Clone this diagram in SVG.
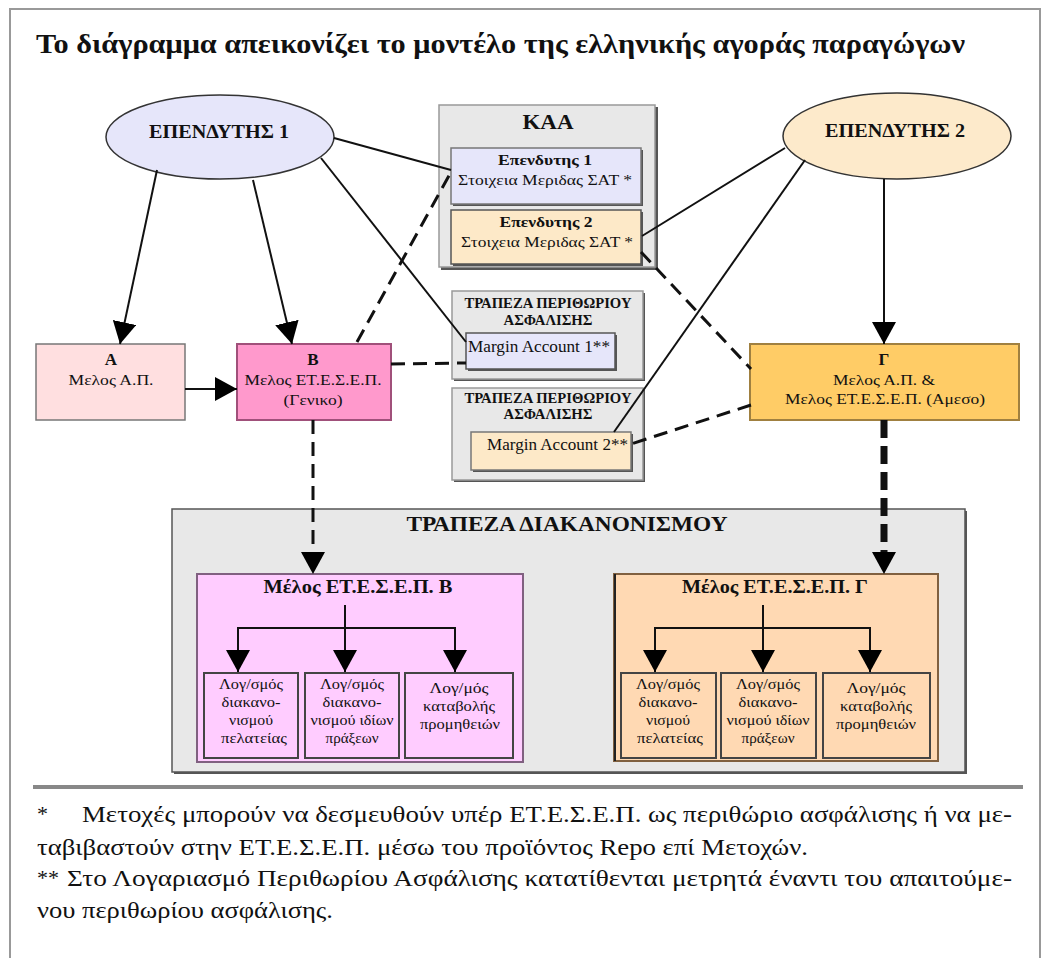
<svg xmlns="http://www.w3.org/2000/svg" width="1043" height="958" viewBox="0 0 1043 958" font-family="'Liberation Serif', 'Times New Roman', serif">
<style>
text{fill:#111}
.b{font-weight:bold}
.c{text-anchor:middle}
.ln{stroke:#111;stroke-width:2;fill:none}
.dl{stroke:#111;stroke-width:3;fill:none;stroke-dasharray:14 8}
.dt{stroke:#111;stroke-width:7;fill:none;stroke-dasharray:18 8}
.sh{fill:#555}
</style>
<defs>
<marker id="tip" markerUnits="userSpaceOnUse" markerWidth="22" markerHeight="24" refX="22" refY="12" orient="auto"><path d="M0,0 L22,12 L0,24 z" fill="#000"/></marker>
<marker id="base" markerUnits="userSpaceOnUse" markerWidth="22" markerHeight="24" refX="0" refY="12" orient="auto"><path d="M0,0 L22,12 L0,24 z" fill="#000"/></marker>
</defs>
<rect x="0" y="0" width="1043" height="958" fill="#fff"/>
<rect x="10" y="9" width="1030" height="965" fill="none" stroke="#999" stroke-width="2"/>
<text class="b" x="36" y="53" font-size="27" textLength="929" lengthAdjust="spacingAndGlyphs">Το διάγραμμα απεικονίζει το μοντέλο της ελληνικής αγοράς παραγώγων</text>

<g id="kaa">
<rect class="sh" x="441" y="107" width="217" height="163"/>
<rect x="439" y="105" width="216" height="162" fill="#e8e8e8" stroke="#999" stroke-width="1.5"/>
<text class="b c" x="548" y="129" font-size="21" textLength="51" lengthAdjust="spacingAndGlyphs">ΚΑΑ</text>
</g>
<g id="ep1box">
<rect class="sh" x="453" y="150" width="190" height="56"/>
<rect x="451" y="148" width="190" height="56" fill="#e6e6fa" stroke="#777" stroke-width="1.5"/>
<text class="b c" x="545" y="165" font-size="15" textLength="94" lengthAdjust="spacingAndGlyphs">Επενδυτης 1</text>
<text class="c" x="545" y="185" font-size="15.5" textLength="174" lengthAdjust="spacingAndGlyphs">Στοιχεια Μεριδας ΣΑΤ *</text>
</g>
<g id="ep2box">
<rect class="sh" x="453" y="212" width="190" height="54"/>
<rect x="451" y="210" width="190" height="54" fill="#fde9c8" stroke="#555" stroke-width="1.5"/>
<text class="b c" x="546" y="227" font-size="15" textLength="93" lengthAdjust="spacingAndGlyphs">Επενδυτης 2</text>
<text class="c" x="547" y="247" font-size="15.5" textLength="172" lengthAdjust="spacingAndGlyphs">Στοιχεια Μεριδας ΣΑΤ *</text>
</g>

<g id="margin1">
<rect class="sh" x="454" y="293" width="191" height="88"/>
<rect x="452" y="291" width="191" height="88" fill="#e8e8e8" stroke="#999" stroke-width="1.5"/>
<text class="b c" x="548" y="308" font-size="14" textLength="167" lengthAdjust="spacingAndGlyphs">ΤΡΑΠΕΖΑ ΠΕΡΙΘΩΡΙΟΥ</text>
<text class="b c" x="548" y="325" font-size="14" textLength="89" lengthAdjust="spacingAndGlyphs">ΑΣΦΑΛΙΣΗΣ</text>
<rect class="sh" x="468" y="335" width="149" height="36"/>
<rect x="466" y="333" width="149" height="36" fill="#e6e6fa" stroke="#555" stroke-width="1.5"/>
<text x="468" y="352" font-size="17" textLength="142" lengthAdjust="spacingAndGlyphs">Margin Account 1**</text>
</g>
<g id="margin2">
<rect class="sh" x="454" y="390" width="191" height="92"/>
<rect x="452" y="388" width="191" height="92" fill="#e8e8e8" stroke="#999" stroke-width="1.5"/>
<text class="b c" x="548" y="403" font-size="14" textLength="167" lengthAdjust="spacingAndGlyphs">ΤΡΑΠΕΖΑ ΠΕΡΙΘΩΡΙΟΥ</text>
<text class="b c" x="548" y="419" font-size="14" textLength="89" lengthAdjust="spacingAndGlyphs">ΑΣΦΑΛΙΣΗΣ</text>
<rect class="sh" x="473" y="434" width="160" height="38"/>
<rect x="471" y="432" width="160" height="38" fill="#fde9c8" stroke="#777" stroke-width="1.5"/>
<text x="487" y="450" font-size="17" textLength="141" lengthAdjust="spacingAndGlyphs">Margin Account 2**</text>
</g>

<g id="investor1">
<ellipse cx="220" cy="137" rx="114" ry="42" fill="#e6e6fa" stroke="#333" stroke-width="1.5"/>
<text class="b c" x="219" y="138" font-size="19" textLength="140" lengthAdjust="spacingAndGlyphs">ΕΠΕΝΔΥΤΗΣ 1</text>
</g>
<g id="investor2">
<ellipse cx="897" cy="136" rx="114" ry="43" fill="#fdeacb" stroke="#333" stroke-width="1.5"/>
<text class="b c" x="895" y="137" font-size="19" textLength="140" lengthAdjust="spacingAndGlyphs">ΕΠΕΝΔΥΤΗΣ 2</text>
</g>

<g id="nodeA">
<rect x="36" y="344" width="149" height="76" fill="#ffdfe0" stroke="#777" stroke-width="1.5"/>
<text class="b c" x="111" y="365" font-size="17">A</text>
<text class="c" x="111" y="385" font-size="15" textLength="85" lengthAdjust="spacingAndGlyphs">Μελος Α.Π.</text>
</g>
<g id="nodeB">
<rect x="237" y="344" width="154" height="76" fill="#ff99cc" stroke="#a0507a" stroke-width="2"/>
<text class="b c" x="313" y="365" font-size="17">B</text>
<text class="c" x="313" y="385" font-size="15" textLength="137" lengthAdjust="spacingAndGlyphs">Μελος ΕΤ.Ε.Σ.Ε.Π.</text>
<text class="c" x="313" y="405" font-size="15" textLength="59" lengthAdjust="spacingAndGlyphs">(Γενικο)</text>
</g>
<g id="nodeG">
<rect x="750" y="344" width="269" height="76" fill="#ffcc66" stroke="#a08040" stroke-width="2"/>
<text class="b c" x="884" y="365" font-size="17">Γ</text>
<text class="c" x="884" y="385" font-size="15" textLength="102" lengthAdjust="spacingAndGlyphs">Μελος Α.Π. &amp;</text>
<text class="c" x="885" y="404" font-size="15" textLength="200" lengthAdjust="spacingAndGlyphs">Μελος ΕΤ.Ε.Σ.Ε.Π. (Αμεσο)</text>
</g>

<g id="settlement">
<rect class="sh" x="174" y="511" width="793" height="263"/>
<rect x="172" y="509" width="793" height="263" fill="#e8e8e8" stroke="#555" stroke-width="1.5"/>
<text class="b c" x="567" y="531" font-size="21" textLength="321" lengthAdjust="spacingAndGlyphs">ΤΡΑΠΕΖΑ ΔΙΑΚΑΝΟΝΙΣΜΟΥ</text>
</g>
<g id="memberB">
<rect x="197" y="574" width="326" height="188" fill="#ffccff" stroke="#806080" stroke-width="2"/>
<text class="b c" x="358" y="593" font-size="18" textLength="189" lengthAdjust="spacingAndGlyphs">Μέλος ΕΤ.Ε.Σ.Ε.Π. Β</text>
<g id="memberB-acc1">
<rect x="204" y="673" width="94" height="85" fill="#ffccff" stroke="#444" stroke-width="2"/>
<text class="c" x="251" y="689" font-size="15" textLength="64" lengthAdjust="spacingAndGlyphs">Λογ/σμός</text>
<text class="c" x="251" y="707" font-size="15" textLength="59" lengthAdjust="spacingAndGlyphs">διακανο-</text>
<text class="c" x="251" y="725" font-size="15" textLength="44" lengthAdjust="spacingAndGlyphs">νισμού</text>
<text class="c" x="254" y="743" font-size="15" textLength="66" lengthAdjust="spacingAndGlyphs">πελατείας</text>
</g>
<g id="memberB-acc2">
<rect x="305" y="673" width="94" height="85" fill="#ffccff" stroke="#444" stroke-width="2"/>
<text class="c" x="352" y="689" font-size="15" textLength="64" lengthAdjust="spacingAndGlyphs">Λογ/σμός</text>
<text class="c" x="352" y="707" font-size="15" textLength="59" lengthAdjust="spacingAndGlyphs">διακανο-</text>
<text class="c" x="352" y="725" font-size="15" textLength="83" lengthAdjust="spacingAndGlyphs">νισμού ιδίων</text>
<text class="c" x="352" y="743" font-size="15" textLength="53" lengthAdjust="spacingAndGlyphs">πράξεων</text>
</g>
<g id="memberB-acc3">
<rect x="405" y="673" width="108" height="85" fill="#ffccff" stroke="#444" stroke-width="2"/>
<text class="c" x="459" y="693" font-size="15" textLength="59" lengthAdjust="spacingAndGlyphs">Λογ/μός</text>
<text class="c" x="459" y="711" font-size="15" textLength="72" lengthAdjust="spacingAndGlyphs">καταβολής</text>
<text class="c" x="460" y="729" font-size="15" textLength="80" lengthAdjust="spacingAndGlyphs">προμηθειών</text>
</g>
</g>
<g id="memberG">
<rect x="614" y="574" width="324" height="187" fill="#ffd9b3" stroke="#806040" stroke-width="2"/>
<rect x="614" y="574" width="2" height="187" fill="#222"/>
<text class="b c" x="775" y="593" font-size="18" textLength="186" lengthAdjust="spacingAndGlyphs">Μέλος ΕΤ.Ε.Σ.Ε.Π. Γ</text>
<g id="memberG-acc1">
<rect x="621" y="673" width="95" height="85" fill="#ffd9b3" stroke="#444" stroke-width="2"/>
<text class="c" x="668" y="689" font-size="15" textLength="64" lengthAdjust="spacingAndGlyphs">Λογ/σμός</text>
<text class="c" x="668" y="707" font-size="15" textLength="59" lengthAdjust="spacingAndGlyphs">διακανο-</text>
<text class="c" x="668" y="725" font-size="15" textLength="44" lengthAdjust="spacingAndGlyphs">νισμού</text>
<text class="c" x="670" y="743" font-size="15" textLength="66" lengthAdjust="spacingAndGlyphs">πελατείας</text>
</g>
<g id="memberG-acc2">
<rect x="721" y="673" width="95" height="85" fill="#ffd9b3" stroke="#444" stroke-width="2"/>
<text class="c" x="768" y="689" font-size="15" textLength="64" lengthAdjust="spacingAndGlyphs">Λογ/σμός</text>
<text class="c" x="768" y="707" font-size="15" textLength="59" lengthAdjust="spacingAndGlyphs">διακανο-</text>
<text class="c" x="768" y="725" font-size="15" textLength="83" lengthAdjust="spacingAndGlyphs">νισμού ιδίων</text>
<text class="c" x="768" y="743" font-size="15" textLength="53" lengthAdjust="spacingAndGlyphs">πράξεων</text>
</g>
<g id="memberG-acc3">
<rect x="823" y="673" width="107" height="85" fill="#ffd9b3" stroke="#444" stroke-width="2"/>
<text class="c" x="876" y="693" font-size="15" textLength="59" lengthAdjust="spacingAndGlyphs">Λογ/μός</text>
<text class="c" x="876" y="711" font-size="15" textLength="72" lengthAdjust="spacingAndGlyphs">καταβολής</text>
<text class="c" x="876" y="729" font-size="15" textLength="80" lengthAdjust="spacingAndGlyphs">προμηθειών</text>
</g>
</g>

<g id="connectors">
<line class="ln" x1="157" y1="170" x2="120" y2="344" marker-end="url(#tip)"/>
<line class="ln" x1="253" y1="180" x2="292" y2="344" marker-end="url(#tip)"/>
<line class="ln" x1="321" y1="158" x2="466" y2="342"/>
<line class="ln" x1="334" y1="138" x2="451" y2="170"/>
<line class="ln" x1="185" y1="389" x2="237" y2="389" marker-end="url(#tip)"/>
<line class="ln" x1="785" y1="148" x2="642" y2="236"/>
<line class="ln" x1="805" y1="160" x2="614" y2="432"/>
<line class="ln" x1="884" y1="179" x2="884" y2="344" marker-end="url(#tip)"/>
<line class="dl" x1="357" y1="342" x2="451" y2="172"/>
<line class="dl" x1="391" y1="364" x2="466" y2="363"/>
<line class="dl" x1="641" y1="252" x2="751" y2="369"/>
<line class="dl" x1="751" y1="405" x2="631" y2="444"/>
<line class="dl" x1="313" y1="420" x2="313" y2="552" marker-end="url(#base)"/>
<line class="dt" x1="884" y1="420" x2="884" y2="552" marker-end="url(#base)"/>
<line class="ln" x1="345" y1="605" x2="345" y2="672" marker-end="url(#tip)"/>
<polyline class="ln" points="238,650 238,628 455,628 455,650"/>
<line class="ln" x1="238" y1="628" x2="238" y2="672" marker-end="url(#tip)"/>
<line class="ln" x1="455" y1="628" x2="455" y2="672" marker-end="url(#tip)"/>
<line class="ln" x1="763" y1="605" x2="763" y2="672" marker-end="url(#tip)"/>
<polyline class="ln" points="655,650 655,628 870,628 870,650"/>
<line class="ln" x1="655" y1="628" x2="655" y2="672" marker-end="url(#tip)"/>
<line class="ln" x1="870" y1="628" x2="870" y2="672" marker-end="url(#tip)"/>
</g>

<line x1="33" y1="787" x2="1023" y2="787" stroke="#888" stroke-width="4"/>
<g id="footnotes">
<text x="37" y="821" font-size="22">*</text>
<text x="82" y="822" font-size="24" textLength="930" lengthAdjust="spacingAndGlyphs">Μετοχές μπορούν να δεσμευθούν υπέρ ΕΤ.Ε.Σ.Ε.Π. ως περιθώριο ασφάλισης ή να με-</text>
<text x="37" y="855" font-size="24" textLength="771" lengthAdjust="spacingAndGlyphs">ταβιβαστούν στην ΕΤ.Ε.Σ.Ε.Π. μέσω του προϊόντος Repo επί Μετοχών.</text>
<text x="37" y="885" font-size="22">**</text>
<text x="67" y="886" font-size="24" textLength="945" lengthAdjust="spacingAndGlyphs">Στο Λογαριασμό Περιθωρίου Ασφάλισης κατατίθενται μετρητά έναντι του απαιτούμε-</text>
<text x="37" y="918" font-size="24" textLength="296" lengthAdjust="spacingAndGlyphs">νου περιθωρίου ασφάλισης.</text>
</g>
</svg>
